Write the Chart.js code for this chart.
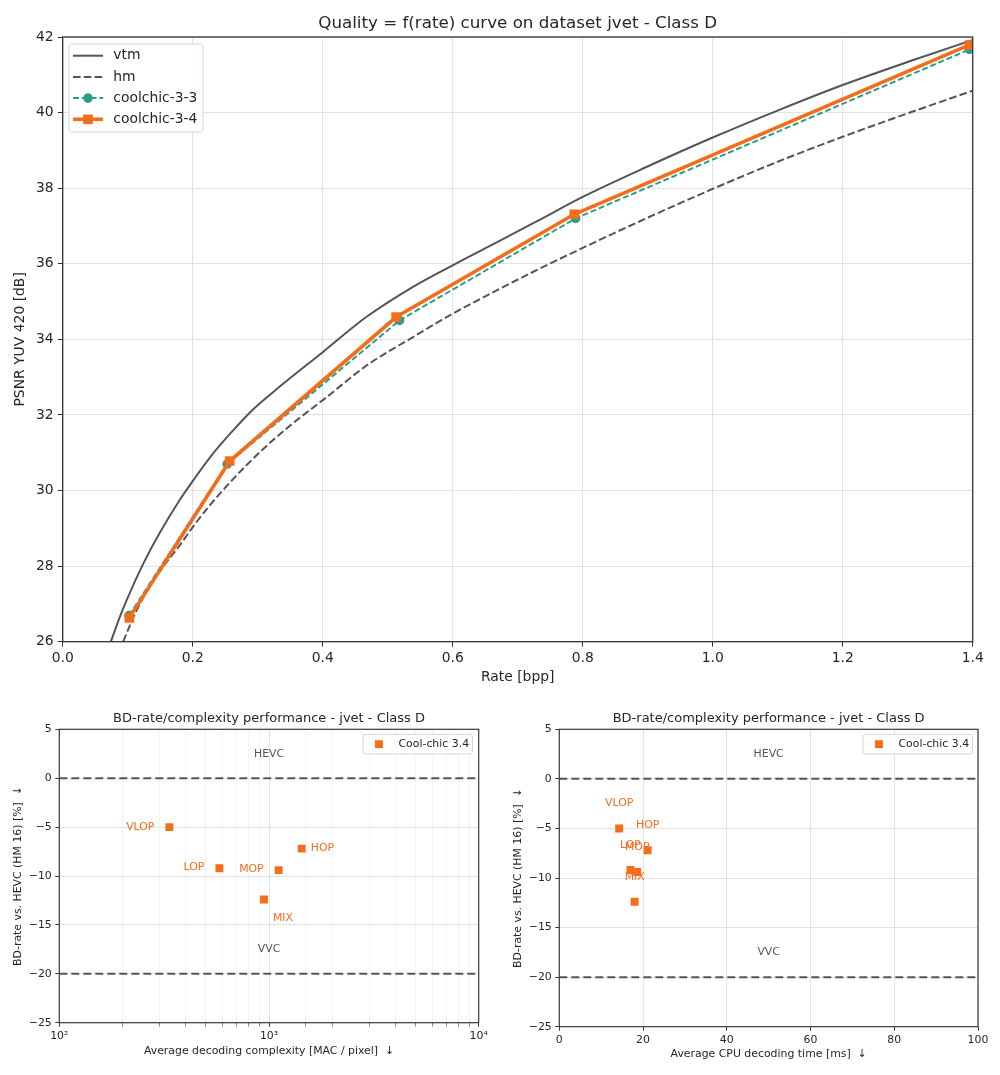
<!DOCTYPE html>
<html><head><meta charset="utf-8">
<script src="https://cdn.jsdelivr.net/npm/chart.js@4.4.1/dist/chart.umd.min.js"></script>
<style>
html,body{margin:0;padding:0;background:#fff;}
#wrap{position:relative;width:1000px;height:1075px;background:#fff;}
canvas{position:absolute;display:block;}
</style></head><body>
<div id="wrap">
<canvas id="top" width="1000" height="700" style="left:0;top:0"></canvas>
<canvas id="bl" width="500" height="375" style="left:0;top:700px"></canvas>
<canvas id="br" width="500" height="375" style="left:500px;top:700px"></canvas>
</div>
<script>
// ---------------- data: rate / quality curves ----------------
const rateVtm = [0.074,0.09,0.106,0.125,0.15,0.18,0.2,0.23,0.26,0.29,0.334,0.4,0.467,0.539,0.6,0.6625,0.729,0.8,0.898,1.0,1.1035,1.2,1.3087,1.4];
const psnrVtm = [26.0,26.75,27.4,28.1,28.9,29.75,30.25,30.95,31.55,32.1,32.75,33.66,34.59,35.39,35.96,36.52,37.12,37.77,38.56,39.34,40.08,40.73,41.39,41.92];
const rateHm = [0.093,0.111,0.13,0.152,0.18,0.203,0.224,0.2625,0.3086,0.35,0.406,0.4677,0.539,0.6,0.6625,0.729,0.8,0.9,1.0,1.1,1.2,1.3,1.4];
const psnrHm = [26.0,26.73,27.35,27.92,28.55,29.1,29.56,30.31,31.1,31.72,32.47,33.31,34.06,34.68,35.25,35.83,36.42,37.22,37.98,38.7,39.36,39.98,40.58];
const rateCc33 = [0.102,0.253,0.518,0.789,1.395];
const psnrCc33 = [26.69,30.7,34.5,37.2,41.67];
const rateCc34 = [0.1025,0.257,0.513,0.787,1.395];
const psnrCc34 = [26.63,30.78,34.59,37.31,41.79];
const seriesNames = ['vtm','hm','coolchic-3-3','coolchic-3-4'];
const rateTicksMin = 0, rateTicksMax = 1.4, rateStep = 0.2;
const psnrMin = 26, psnrMax = 42, psnrStep = 2;

// ---------------- data: BD-rate / complexity ----------------
const presetNames = ['VLOP','LOP','MOP','HOP','MIX'];
const macPerPixel = [335, 580, 1112, 1432, 946];
const cpuTimeMs   = [14.3, 17.0, 18.6, 21.1, 18.0];
const bdRate      = [-5.0, -9.2, -9.4, -7.2, -12.4];
const refCodecNames = ['HEVC','VVC'];
const refCodecBdRate = [0, -20];
const refLabelBdRate = [2.5, -17.5];
const macMin = 100, macMax = 10000, macLabelX = 1000;
const cpuMin = 0, cpuMax = 100, cpuStep = 20, cpuLabelX = 50;
const bdMin = -25, bdMax = 5, bdStep = 5;
const scatterName = 'Cool-chic 3.4';

// ---------------- styles ----------------
const FONT = "'DejaVu Sans', sans-serif";
const INK = '#262626';
const GREY = '#555555';
const TEAL = '#2a9d8f';
const ORANGE = '#f46d1b';
const GRID = '#e2e2e2';
const SPINE = '#333333';
Chart.defaults.font.family = FONT;
Chart.defaults.color = INK;

function pts(xs, ys){ return xs.map((x,i)=>({x:x, y:ys[i]})); }
function minus(v){ return v < 0 ? '\u2212' + Math.abs(v) : String(v); }
function roundRect(ctx,x,y,w,h,r){
  ctx.beginPath();
  ctx.moveTo(x+r,y); ctx.lineTo(x+w-r,y); ctx.quadraticCurveTo(x+w,y,x+w,y+r);
  ctx.lineTo(x+w,y+h-r); ctx.quadraticCurveTo(x+w,y+h,x+w-r,y+h);
  ctx.lineTo(x+r,y+h); ctx.quadraticCurveTo(x,y+h,x,y+h-r);
  ctx.lineTo(x,y+r); ctx.quadraticCurveTo(x,y,x+r,y); ctx.closePath();
}
function marker(ctx, style, x, y, r, color){
  ctx.fillStyle = color;
  if (style === 'rect'){ const s = r*Math.SQRT1_2; ctx.fillRect(x-s,y-s,2*s,2*s); }
  else if (style === 'circle'){ ctx.beginPath(); ctx.arc(x,y,r,0,Math.PI*2); ctx.fill(); }
}

const titlePlugin = {
  id: 'axTitle',
  afterDraw(chart, args, o){
    const {ctx, chartArea:a} = chart;
    ctx.save();
    ctx.font = o.size + 'px ' + FONT;
    ctx.fillStyle = INK; ctx.textAlign = 'center'; ctx.textBaseline = 'middle';
    ctx.fillText(o.text, (a.left+a.right)/2, o.y);
    ctx.restore();
  }
};
const framePlugin = {
  id: 'frame',
  afterDraw(chart, args, o){
    const {ctx, chartArea:a} = chart;
    ctx.save(); ctx.strokeStyle = o.color; ctx.lineWidth = o.width;
    ctx.strokeRect(a.left, a.top, a.right-a.left, a.bottom-a.top);
    ctx.restore();
  }
};
const legendPlugin = {
  id: 'boxLegend',
  afterDraw(chart, args, o){
    const ctx = chart.ctx;
    ctx.save();
    roundRect(ctx, o.x, o.y, o.w, o.h, 3);
    ctx.fillStyle = 'rgba(255,255,255,0.85)'; ctx.fill();
    ctx.strokeStyle = '#d4d4d4'; ctx.lineWidth = 1; ctx.stroke();
    let row = 0;
    chart.data.datasets.forEach(ds => {
      if (!ds.inLegend) return;
      const y = o.firstY + row*o.rowH; row++;
      if (ds.showLine !== false && o.lines){
        ctx.save();
        ctx.strokeStyle = ds.borderColor; ctx.lineWidth = ds.borderWidth;
        ctx.setLineDash(ds.borderDash || []);
        ctx.beginPath(); ctx.moveTo(o.lineX0, y); ctx.lineTo(o.lineX1, y); ctx.stroke();
        ctx.restore();
      }
      if (ds.pointRadius > 0) marker(ctx, ds.pointStyle, (o.lineX0+o.lineX1)/2, y, ds.pointRadius, ds.pointBackgroundColor);
      ctx.font = o.size + 'px ' + FONT; ctx.fillStyle = INK;
      ctx.textAlign = 'left'; ctx.textBaseline = 'middle';
      ctx.fillText(ds.label, o.textX, y);
    });
    ctx.restore();
  }
};
const annotPlugin = {
  id: 'annot',
  afterDatasetsDraw(chart, args, o){
    const ctx = chart.ctx, xs = chart.scales.x, ys = chart.scales.y;
    ctx.save();
    ctx.font = o.size + 'px ' + FONT; ctx.textBaseline = 'middle';
    ctx.fillStyle = GREY; ctx.textAlign = 'center';
    refCodecNames.forEach((n,i)=> ctx.fillText(n, xs.getPixelForValue(o.refX), ys.getPixelForValue(refLabelBdRate[i])));
    ctx.fillStyle = ORANGE;
    presetNames.forEach((n,i)=>{
      const p = o.place[i];
      ctx.textAlign = p.align;
      ctx.fillText(n, xs.getPixelForValue(o.xs[i]) + p.dx, ys.getPixelForValue(bdRate[i]) + p.dy);
    });
    ctx.restore();
  }
};

// ---------------- top chart ----------------
new Chart(document.getElementById('top'), {
  type: 'scatter',
  data: { datasets: [
    { label: seriesNames[0], data: pts(rateVtm, psnrVtm), showLine: true, inLegend: true, order: 4,
      borderColor: GREY, borderWidth: 2, pointRadius: 0, cubicInterpolationMode: 'monotone' },
    { label: seriesNames[1], data: pts(rateHm, psnrHm), showLine: true, inLegend: true, order: 3,
      borderColor: GREY, borderWidth: 2, borderDash: [7.6,3.2], pointRadius: 0, cubicInterpolationMode: 'monotone' },
    { label: seriesNames[2], data: pts(rateCc33, psnrCc33), showLine: true, inLegend: true, order: 2,
      borderColor: TEAL, borderWidth: 2, borderDash: [6,2.8], pointStyle: 'circle', pointRadius: 4.8,
      pointBackgroundColor: TEAL, pointBorderWidth: 0 },
    { label: seriesNames[3], data: pts(rateCc34, psnrCc34), showLine: true, inLegend: true, order: 1,
      borderColor: ORANGE, borderWidth: 3.6, pointStyle: 'rect', pointRadius: 6.8,
      pointBackgroundColor: ORANGE, pointBorderWidth: 0 }
  ]},
  options: {
    responsive: false, animation: false, events: [],
    layout: { padding: { top: 37, right: 27.3, left: 0, bottom: 14.6 } },
    plugins: {
      legend: { display: false }, tooltip: { enabled: false },
      axTitle: { text: 'Quality = f(rate) curve on dataset jvet - Class D', size: 16.7, y: 23.5 },
      frame: { color: SPINE, width: 1.3 },
      boxLegend: { x: 69, y: 44, w: 134, h: 88, firstY: 55.7, rowH: 21.2, lineX0: 73, lineX1: 103, textX: 113.3, size: 13.9, lines: true }
    },
    scales: {
      x: { type: 'linear', min: rateTicksMin, max: rateTicksMax,
        afterFit: s => { s.height = 43.7; },
        ticks: { stepSize: rateStep, callback: v => Number(v).toFixed(1), font: { size: 13.9 }, color: INK, padding: 3, maxRotation: 0 },
        grid: { color: GRID, lineWidth: 1, tickColor: SPINE, tickLength: 5 },
        border: { display: false },
        title: { display: true, text: 'Rate [bpp]', font: { size: 13.9 }, color: INK, padding: 0 } },
      y: { type: 'linear', min: psnrMin, max: psnrMax,
        afterFit: s => { s.width = 62.7; },
        ticks: { stepSize: psnrStep, font: { size: 13.9 }, color: INK, padding: 4 },
        grid: { color: GRID, lineWidth: 1, tickColor: SPINE, tickLength: 5 },
        border: { display: false },
        title: { display: true, text: 'PSNR YUV 420 [dB]', font: { size: 13.9 }, color: INK, padding: { top: 11.6, bottom: 0 } } }
    }
  },
  plugins: [titlePlugin, framePlugin, legendPlugin]
});

// ---------------- bottom charts ----------------
function isPow10(v){ const e = Math.log10(v); return Math.abs(e - Math.round(e)) < 1e-9; }
const SUP = {'0':'\u2070','1':'\u00b9','2':'\u00b2','3':'\u00b3','4':'\u2074','5':'\u2075'};
function refLine(y, x0, x1){ return { data: [{x:x0,y:y},{x:x1,y:y}], showLine: true, borderColor: GREY, borderWidth: 2, borderDash: [8,4], pointRadius: 0, order: 2 }; }

function bottomChart(id, xCfg, xs, refX, place, xTitle, xHeight, padBottom){
  return new Chart(document.getElementById(id), {
    type: 'scatter',
    data: { datasets: [
      { label: scatterName, data: pts(xs, bdRate), inLegend: true, order: 1,
        pointStyle: 'rect', pointRadius: 5.6, pointBackgroundColor: ORANGE, pointBorderWidth: 0, showLine: false },
      refLine(refCodecBdRate[0], xCfg.min, xCfg.max),
      refLine(refCodecBdRate[1], xCfg.min, xCfg.max)
    ]},
    options: {
      responsive: false, animation: false, events: [],
      layout: { padding: { top: 29.3, right: xCfg.padRight, left: 0, bottom: padBottom } },
      plugins: {
        legend: { display: false }, tooltip: { enabled: false },
        axTitle: { text: 'BD-rate/complexity performance - jvet - Class D', size: 13, y: 19 },
        frame: { color: '#3a3a3a', width: 1.2 },
        boxLegend: { x: 363, y: 34.3, w: 109.5, h: 19.7, firstY: 44.2, rowH: 0, lineX0: 371, lineX1: 387, textX: 398.5, size: 10.9, lines: false },
        annot: { size: 10.9, refX: refX, xs: xs, place: place }
      },
      scales: {
        x: Object.assign({
          afterFit: s => { s.height = xHeight; },
          grid: { color: xCfg.gridColor, lineWidth: 1, tickColor: '#3a3a3a', tickLength: 4, tickWidth: xCfg.tickWidth },
          border: { display: false },
          title: { display: true, text: xTitle, font: { size: 10.9 }, color: INK, padding: 0 }
        }, xCfg.scale),
        y: { type: 'linear', min: bdMin, max: bdMax,
          afterFit: s => { s.width = 59.3; },
          ticks: { stepSize: bdStep, callback: v => minus(v), font: { size: 10.9 }, color: INK, padding: 3.5 },
          grid: { color: GRID, lineWidth: 1, tickColor: '#3a3a3a', tickLength: 4 },
          border: { display: false },
          title: { display: true, text: 'BD-rate vs. HEVC (HM 16) [%]  \u2193', font: { size: 10.9 }, color: INK, padding: { top: 11.4, bottom: 0 } } }
      }
    },
    plugins: [titlePlugin, framePlugin, legendPlugin, annotPlugin]
  });
}

bottomChart('bl',
  { min: macMin, max: macMax, padRight: 21.3,
    gridColor: ctx => (ctx.tick && isPow10(ctx.tick.value)) ? GRID : '#f3f3f3',
    tickWidth: ctx => (ctx.tick && isPow10(ctx.tick.value)) ? 1 : 0.6,
    scale: { type: 'logarithmic', min: macMin, max: macMax,
      ticks: { autoSkip: false, maxRotation: 0, font: { size: 10.9 }, color: INK, padding: 3,
        callback: v => isPow10(v) ? '10' + SUP[String(Math.round(Math.log10(v)))] : '' } } },
  macPerPixel, macLabelX,
  [ {dx:-15, dy:0, align:'right'}, {dx:-15, dy:-1, align:'right'}, {dx:-15, dy:-1, align:'right'},
    {dx:9, dy:0, align:'left'}, {dx:9, dy:19, align:'left'} ],
  'Average decoding complexity [MAC / pixel]  \u2193', 34.9, 17.4);

bottomChart('br',
  { min: cpuMin, max: cpuMax, padRight: 22,
    gridColor: GRID, tickWidth: 1,
    scale: { type: 'linear', min: cpuMin, max: cpuMax,
      ticks: { stepSize: cpuStep, maxRotation: 0, font: { size: 10.9 }, color: INK, padding: 3 } } },
  cpuTimeMs, cpuLabelX,
  [ {dx:0, dy:-25, align:'center'}, {dx:0, dy:-25, align:'center'}, {dx:0, dy:-25, align:'center'},
    {dx:0, dy:-25, align:'center'}, {dx:0, dy:-25, align:'center'} ],
  'Average CPU decoding time [ms]  \u2193', 34.2, 14.1);
</script>
</body></html>
